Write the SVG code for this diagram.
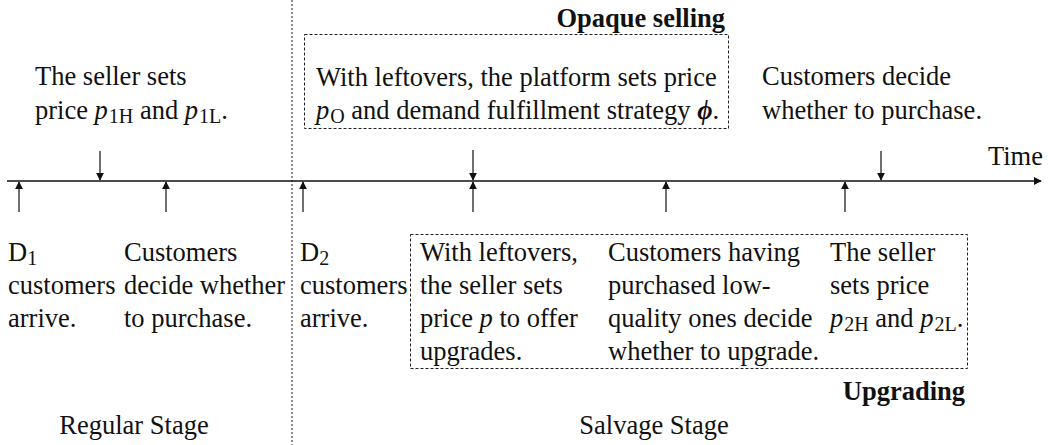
<svg xmlns="http://www.w3.org/2000/svg" width="1048" height="445" viewBox="0 0 1048 445">
<style>
text{font-family:"Liberation Serif","Times New Roman",serif;font-size:26.5px;fill:#111}
.b{font-weight:bold}
.i{font-style:italic}
.s{font-size:20px}
.box{fill:none;stroke:#222;stroke-width:1;stroke-dasharray:3,2}
.ax{stroke:#111;stroke-width:1.4;fill:none}
.ar{stroke:#222;stroke-width:1.3;fill:none}
</style>
<defs>
<marker id="ah" viewBox="0 0 10 10" refX="9" refY="5" markerWidth="8" markerHeight="8" markerUnits="userSpaceOnUse" orient="auto">
<path d="M0,0 L10,5 L0,10 z" fill="#111"/>
</marker>
</defs>
<line x1="292" y1="0" x2="292" y2="445" stroke="#222" stroke-width="1" stroke-dasharray="2,2"/>
<g id="connectors">
<line class="ax" x1="7" y1="181" x2="1041" y2="181" marker-end="url(#ah)"/>
<line class="ar" x1="100" y1="151" x2="100" y2="180" marker-end="url(#ah)"/>
<line class="ar" x1="473" y1="150" x2="473" y2="180" marker-end="url(#ah)"/>
<line class="ar" x1="881" y1="151" x2="881" y2="180" marker-end="url(#ah)"/>
<line class="ar" x1="19" y1="212" x2="19" y2="182" marker-end="url(#ah)"/>
<line class="ar" x1="166" y1="212" x2="166" y2="182" marker-end="url(#ah)"/>
<line class="ar" x1="303" y1="212" x2="303" y2="182" marker-end="url(#ah)"/>
<line class="ar" x1="473" y1="212" x2="473" y2="182" marker-end="url(#ah)"/>
<line class="ar" x1="666" y1="212" x2="666" y2="182" marker-end="url(#ah)"/>
<line class="ar" x1="845" y1="212" x2="845" y2="182" marker-end="url(#ah)"/>
</g>
<g id="seller-sets-1">
<text x="35" y="85">The seller sets</text>
<text x="35" y="119">price <tspan class="i">p</tspan><tspan class="s" dx="1" dy="4">1H</tspan><tspan dy="-4"> and </tspan><tspan class="i">p</tspan><tspan class="s" dx="1" dy="4">1L</tspan><tspan dy="-4">.</tspan></text>
</g>
<g id="opaque">
<text class="b" x="725" y="27" text-anchor="end">Opaque selling</text>
<rect class="box" x="304.5" y="34.5" width="424" height="94"/>
<text x="316" y="86">With leftovers, the platform sets price</text>
<text x="316" y="119"><tspan class="i">p</tspan><tspan class="s" dx="1" dy="4">O</tspan><tspan dy="-4"> and demand fulfillment strategy </tspan><tspan class="b i">ϕ</tspan>.</text>
</g>
<g id="customers-decide-2">
<text x="762" y="85">Customers decide</text>
<text x="762" y="119">whether to purchase.</text>
</g>
<text x="1043" y="165" text-anchor="end">Time</text>
<g id="d1-arrive">
<text x="8" y="261">D<tspan class="s" dy="4">1</tspan></text>
<text x="8" y="294">customers</text>
<text x="8" y="327">arrive.</text>
</g>
<g id="customers-decide-1">
<text x="124" y="261">Customers</text>
<text x="124" y="294">decide whether</text>
<text x="124" y="327">to purchase.</text>
</g>
<g id="d2-arrive">
<text x="300" y="261">D<tspan class="s" dy="4">2</tspan></text>
<text x="300" y="294">customers</text>
<text x="300" y="327">arrive.</text>
</g>
<g id="upgrading">
<rect class="box" x="410.5" y="234.5" width="557" height="134"/>
<text class="b" x="965" y="400" text-anchor="end">Upgrading</text>
</g>
<g id="offer-upgrades">
<text x="420" y="261">With leftovers,</text>
<text x="420" y="294">the seller sets</text>
<text x="420" y="327">price <tspan class="i">p</tspan> to offer</text>
<text x="420" y="360">upgrades.</text>
</g>
<g id="decide-upgrade">
<text x="608" y="261">Customers having</text>
<text x="608" y="294">purchased low-</text>
<text x="608" y="327">quality ones decide</text>
<text x="608" y="360">whether to upgrade.</text>
</g>
<g id="seller-sets-2">
<text x="830" y="261">The seller</text>
<text x="830" y="294">sets price</text>
<text x="830" y="327"><tspan class="i">p</tspan><tspan class="s" dx="1" dy="4">2H</tspan><tspan dy="-4"> and </tspan><tspan class="i">p</tspan><tspan class="s" dx="1" dy="4">2L</tspan><tspan dy="-4">.</tspan></text>
</g>
<text x="134" y="434" text-anchor="middle">Regular Stage</text>
<text x="654" y="434" text-anchor="middle">Salvage Stage</text>
</svg>
